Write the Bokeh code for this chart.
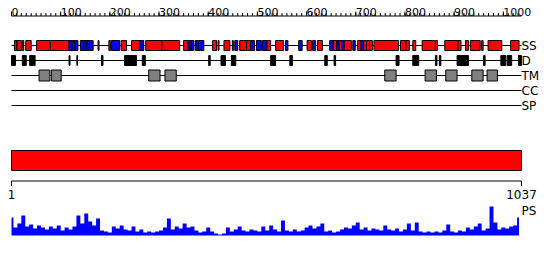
from bokeh.plotting import figure
from bokeh.models import Range1d
from bokeh.core.properties import value
from bokeh.embed import file_html
from bokeh.resources import INLINE

# ---------------- data ----------------
seq_len = 1037
ruler_ticks = [0, 100, 200, 300, 400, 500, 600, 700, 800, 900, 1000]
ruler_labels = ["0", "100", "200", "300", "400", "500", "600", "700", "800", "900", "1000"]
minor_ticks = list(range(0, 1031, 10))

helix_start = [6, 11, 22, 29, 51, 79, 176, 198, 223, 244, 273, 306, 350, 409, 420, 432, 449, 464, 478, 519,
               537, 601, 622, 654, 666, 676, 704, 716, 722, 728, 737, 791, 802, 816, 835, 862, 881, 908, 923,
               933, 956, 969, 1015]
helix_end = [11, 20, 25, 40, 79, 117, 178, 201, 234, 261, 306, 342, 359, 417, 422, 444, 451, 478, 486, 527,
             553, 610, 632, 661, 671, 691, 711, 722, 728, 734, 787, 802, 809, 822, 862, 866, 908, 914, 929,
             953, 959, 997, 1032]
strand_start = [117, 123, 129, 140, 147, 153, 203, 261, 359, 365, 374, 380, 454, 486, 498, 510, 557, 584, 612,
                647, 661, 671, 694, 711]
strand_end = [123, 129, 135, 147, 153, 166, 220, 269, 365, 371, 380, 391, 460, 494, 508, 519, 562, 591, 618,
              654, 666, 676, 699, 716]
disorder_start = [0, 22, 37, 45, 117, 133, 183, 230, 266, 401, 426, 447, 527, 566, 637, 656, 782, 816, 862,
                  870, 906, 960, 995, 1008, 1031]
disorder_end = [8, 30, 44, 48, 119, 134, 186, 254, 272, 404, 435, 456, 537, 571, 642, 659, 788, 828, 865,
                873, 929, 963, 1005, 1017, 1037]
tm_start = [56, 81, 279, 312, 759, 841, 883, 936, 967]
tm_end = [78, 101, 302, 335, 782, 864, 906, 959, 988]
domain_start = [1]
domain_end = [1037]
track_names = ["SS", "D", "TM", "CC", "SP"]

ps_pos = list(range(0, 1037, 8))
ps_values = [18, 8, 12, 20, 9, 11, 7, 10, 8, 6,
             9, 7, 10, 5, 8, 6, 9, 20, 12, 22,
             14, 10, 17, 5, 4, 3, 9, 7, 10, 6,
             5, 9, 4, 6, 3, 4, 3, 4, 5, 8,
             17, 6, 9, 7, 12, 8, 9, 5, 3, 4,
             8, 4, 2, 1, 2, 8, 4, 6, 9, 5,
             4, 6, 5, 4, 9, 5, 10, 6, 4, 15,
             5, 4, 6, 4, 5, 8, 10, 7, 9, 12,
             4, 5, 3, 4, 6, 8, 7, 10, 13, 6,
             8, 5, 7, 6, 5, 10, 6, 5, 7, 4,
             6, 12, 5, 13, 4, 3, 4, 3, 4, 3,
             5, 11, 4, 3, 5, 4, 8, 6, 9, 12,
             5, 7, 29, 13, 6, 8, 7, 9, 10, 18]

# ---------------- layout ----------------
W, H = 550, 260
left_px, right_px = 11, 521
scale = (right_px - left_px) / seq_len

p = figure(width=W, height=H, output_backend="svg", toolbar_location=None,
           x_range=Range1d(-left_px / scale, (W - left_px) / scale),
           y_range=Range1d(H, 0), min_border=0,
           x_axis_type=None, y_axis_type=None)
p.xgrid.visible = False
p.ygrid.visible = False
p.outline_line_color = None
p.background_fill_color = "white"
p.border_fill_color = "white"
p.extra_y_ranges = {"ps": Range1d(-25, 235)}

FONT = value("DejaVu Sans")

# top ruler
ruler_y = 15.5
p.segment(x0=[0], x1=[seq_len], y0=[ruler_y], y1=[ruler_y], line_color="black", line_width=1)
p.segment(x0=minor_ticks, x1=minor_ticks, y0=[ruler_y] * len(minor_ticks),
          y1=[ruler_y - 3] * len(minor_ticks), line_color="black", line_width=1)
p.segment(x0=ruler_ticks, x1=ruler_ticks, y0=[ruler_y] * len(ruler_ticks),
          y1=[ruler_y - 4.5] * len(ruler_ticks), line_color="black", line_width=1)
p.text(x=ruler_ticks, y=[11] * len(ruler_ticks), text=ruler_labels, text_font=FONT,
       text_font_size="11px", text_align="left", text_baseline="alphabetic", text_color="black")

# tracks
track_y = [45, 60, 75, 90, 105]
p.segment(x0=[0] * 5, x1=[seq_len] * 5, y0=track_y, y1=track_y, line_color="black", line_width=1.2)
p.text(x=[seq_len] * 5, y=track_y, text=track_names, text_font=FONT, text_font_size="12px",
       text_align="left", text_baseline="middle", text_color="black")

p.quad(left=helix_start, right=helix_end, top=[40] * len(helix_start), bottom=[50] * len(helix_start),
       fill_color="#ff0000", line_color="black", line_width=1)
p.quad(left=strand_start, right=strand_end, top=[40] * len(strand_start), bottom=[50] * len(strand_start),
       fill_color="#0000ff", line_color="black", line_width=1)
p.quad(left=disorder_start, right=disorder_end, top=[55] * len(disorder_start),
       bottom=[65] * len(disorder_start), fill_color="black", line_color="black", line_width=1)
p.quad(left=tm_start, right=tm_end, top=[69.5] * len(tm_start), bottom=[80.5] * len(tm_start),
       fill_color="#808080", line_color="black", line_width=1)

# domain bar
p.quad(left=[s - 1 for s in domain_start], right=domain_end, top=[150], bottom=[170],
       fill_color="#ff0000", line_color="black", line_width=1)

# bottom ruler
by = 180.5
p.segment(x0=[0], x1=[seq_len], y0=[by], y1=[by], line_color="black", line_width=1)
p.segment(x0=[0, seq_len], x1=[0, seq_len], y0=[by, by], y1=[by + 5, by + 5], line_color="black", line_width=1)
p.text(x=[0, seq_len], y=[189, 189], text=["1", str(seq_len)], text_font=FONT, text_font_size="12px",
       text_align="center", text_baseline="top", text_color="black")
p.text(x=[seq_len], y=[203], text=["PS"], text_font=FONT, text_font_size="12px",
       text_align="left", text_baseline="top", text_color="black")

# PS profile
p.varea_step(x=ps_pos, y1=[0] * len(ps_pos), y2=ps_values, step_mode="center",
             fill_color="#0000ff", y_range_name="ps")

open("out.html", "w").write(file_html(p, INLINE))
